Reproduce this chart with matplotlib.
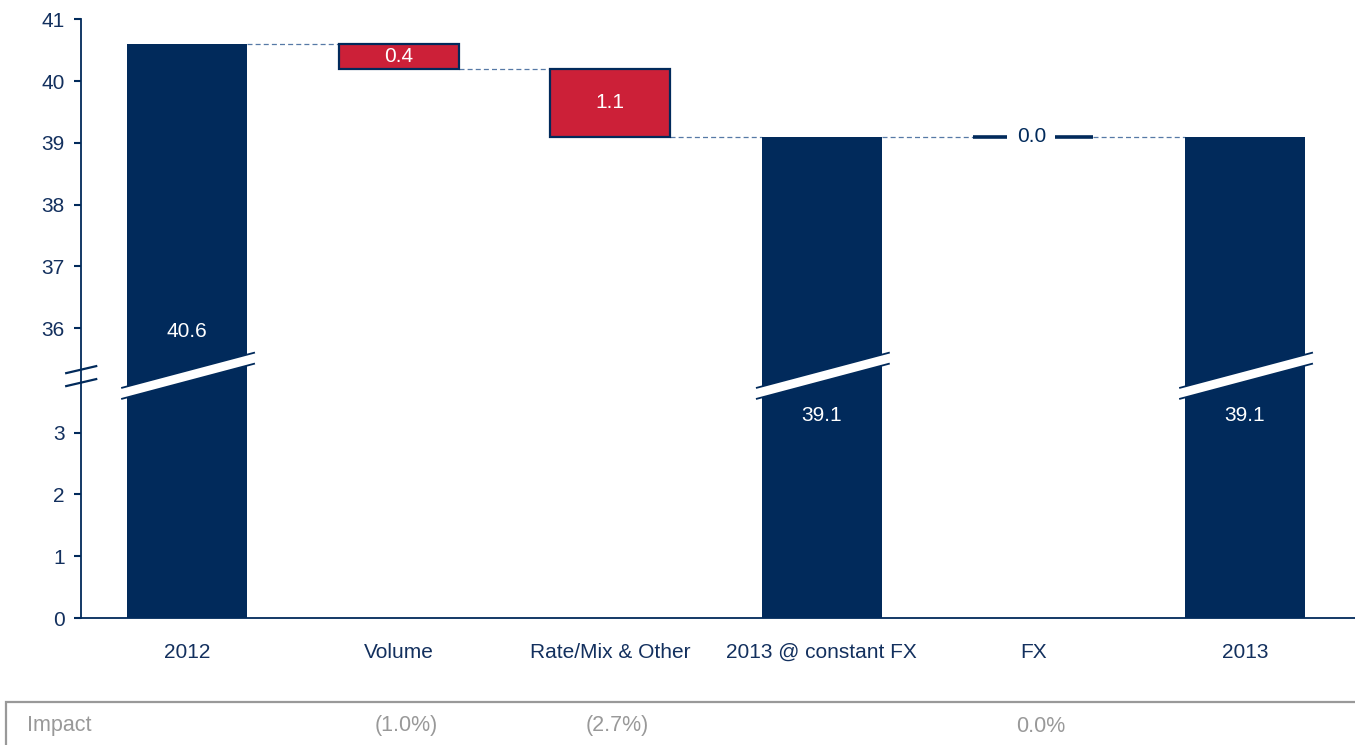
import matplotlib
matplotlib.use("Agg")
import matplotlib.pyplot as plt
from matplotlib.patches import Polygon, Rectangle
from matplotlib.lines import Line2D
from matplotlib.transforms import blended_transform_factory

# ---- data -------------------------------------------------------------
categories = ["2012", "Volume", "Rate/Mix & Other", "2013 @ constant FX", "FX", "2013"]
values = [40.6, -0.4, -1.1, 39.1, 0.0, 39.1]
is_total = [True, False, False, True, False, True]
impact = [None, -1.0, -2.7, None, 0.0, None]
lower_ticks = [0, 1, 2, 3]
upper_ticks = [36, 37, 38, 39, 40, 41]

# ---- style ------------------------------------------------------------
NAVY = "#012a5b"
RED = "#cc2038"
TICK_C = "#13305e"
DASH_C = "#5679a6"
GREY = "#999999"
FONT = "Liberation Sans"
FS = 15
plt.rcParams["font.family"] = [FONT, "DejaVu Sans"]

# broken value axis: values below the gap are drawn as is,
# values above it are shifted down so 36 sits just above the gap
SHIFT = 36 - 4.69


def disp(v):
    return v if v < 10 else v - SHIFT


W = 13.55
H = 7.45
fig = plt.figure(figsize=(W, H), dpi=100)
ax = fig.add_axes([81.2 / 1355, (745 - 618) / 745, (1350.8 - 81.2) / 1355, (618 - 19.3) / 745])
ax.set_xlim(-0.5, len(categories) - 0.5)
ax.set_ylim(0, disp(41))

bw = 0.567

# running totals for the floating steps
running = 0.0
levels = []  # level after each bar
for i, (v, tot) in enumerate(zip(values, is_total)):
    if tot:
        ax.bar(i, disp(v), width=bw, bottom=0, color=NAVY, edgecolor="none", zorder=2)
        running = v
    else:
        top = running
        bot = running + v
        if v == 0:
            ax.bar(i, 0, width=bw, bottom=disp(top), color=NAVY, edgecolor=NAVY,
                   linewidth=2.6, zorder=2)
        else:
            ax.bar(i, disp(top) - disp(bot), width=bw, bottom=disp(bot), color=RED,
                   edgecolor=NAVY, linewidth=1.6, zorder=2)
        running = bot
    levels.append(running)

# dashed connectors between neighbouring bars
for i in range(len(values) - 1):
    y = disp(levels[i])
    ax.plot([i + bw / 2, i + 1 - bw / 2], [y, y], color=DASH_C, lw=0.9,
            ls=(0, (4, 2.5)), zorder=1)

# break stripes across the tall bars
for i, tot in enumerate(is_total):
    if not tot:
        continue
    xl, xr = i - 0.307, i + 0.317
    up = lambda dx: 4.005 + 0.908 * dx
    lo = lambda dx: 3.827 + 0.908 * dx
    poly = Polygon([(xl, up(-0.307)), (xr, up(0.317)), (xr, lo(0.317)), (xl, lo(-0.307))],
                   closed=True, facecolor="white", edgecolor="none", zorder=3)
    ax.add_patch(poly)
    ax.plot([xl, xr], [up(-0.307), up(0.317)], color=NAVY, lw=1.3, zorder=4)
    ax.plot([xl, xr], [lo(-0.307), lo(0.317)], color=NAVY, lw=1.3, zorder=4)

# value labels
total_label_y = {0: 4.64, 3: 3.285, 5: 3.285}
running = 0.0
for i, (v, tot) in enumerate(zip(values, is_total)):
    if tot:
        ax.text(i, total_label_y[i], f"{v:.1f}", color="white", ha="center", va="center",
                fontsize=FS, zorder=5)
        running = v
    else:
        top, bot = running, running + v
        if v == 0:
            ax.text(i - 0.01, disp(top), f"{abs(v):.1f}", color=NAVY, ha="center", va="center",
                    fontsize=FS, zorder=5,
                    bbox=dict(boxstyle="square,pad=0.45", facecolor="white", edgecolor="none"))
        else:
            ax.text(i, (disp(top) + disp(bot)) / 2, f"{abs(v):.1f}", color="white",
                    ha="center", va="center", fontsize=FS, zorder=5)
        running = bot

# axes styling
for s in ["top", "right"]:
    ax.spines[s].set_visible(False)
for s in ["left", "bottom"]:
    ax.spines[s].set_color(NAVY)
    ax.spines[s].set_linewidth(1.3)
ax.spines["bottom"].set_bounds(-0.5, len(categories) - 0.5 + 0.03)

yt = lower_ticks + upper_ticks
ax.set_yticks([disp(t) for t in yt])
ax.set_yticklabels([str(t) for t in yt])
ax.tick_params(axis="y", direction="out", length=5, width=1.5, color=NAVY,
               labelcolor=TICK_C, labelsize=FS, pad=7)
ax.set_xticks(range(len(categories)))
ax.set_xticklabels(categories)
ax.tick_params(axis="x", length=0, labelcolor=TICK_C, labelsize=FS, pad=18)

# break marks on the value axis
px = 1.0 / 211.6  # x units per pixel
py = 1.0 / 61.8   # y units per pixel
for yc in (4.02, 3.81):
    ax.add_line(Line2D([-0.5 - 15 * px, -0.5 + 15 * px],
                       [yc - 3.5 * py, yc + 3.5 * py],
                       color=NAVY, lw=1.6, clip_on=False, zorder=6))

# impact row beneath the chart
fig.add_artist(Rectangle((6 / 1355, -0.2), 1.2, 0.2 + (745 - 702) / 745,
                         transform=fig.transFigure, facecolor="none",
                         edgecolor=GREY, linewidth=1.6))
fig.text(27 / 1355, (745 - 726) / 745, "Impact", color=GREY, fontsize=15.5,
         ha="left", va="center")
tr = blended_transform_factory(ax.transData, fig.transFigure)
for i, imp in enumerate(impact):
    if imp is None:
        continue
    txt = f"({abs(imp):.1f}%)" if imp < 0 else f"{imp:.1f}%"
    fig.text(i + 0.035, (745 - 726) / 745, txt, color=GREY, fontsize=15.5,
             ha="center", va="center", transform=tr)

fig.savefig("out.png", dpi=100)
